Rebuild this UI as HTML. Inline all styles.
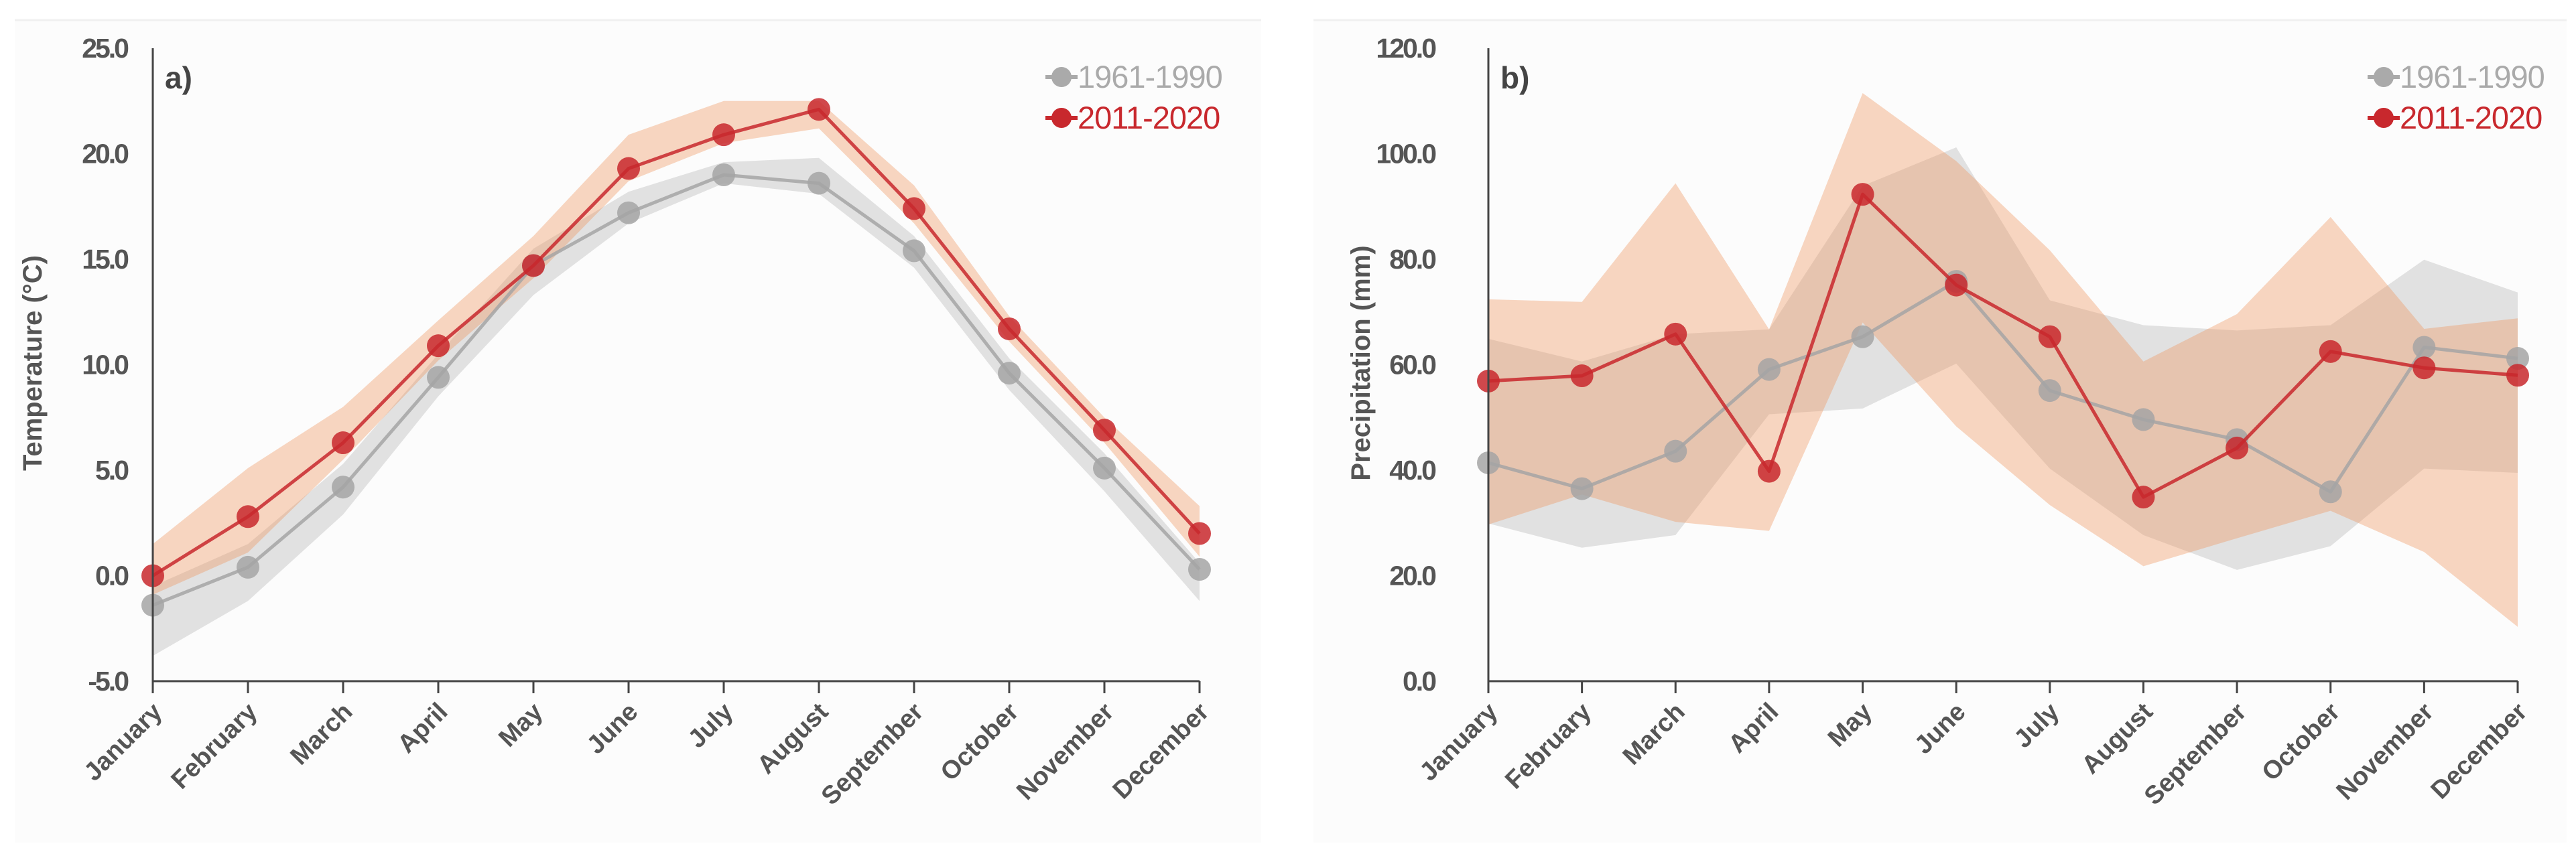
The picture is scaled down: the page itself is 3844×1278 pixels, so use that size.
<!DOCTYPE html>
<html><head><meta charset="utf-8"><style>
html,body{margin:0;padding:0;background:#fff;}
svg{display:block;font-family:"Liberation Sans",sans-serif;}
</style></head><body>
<svg id="chart" width="3844" height="1278" viewBox="0 0 3844 1278" xmlns="http://www.w3.org/2000/svg">
<rect x="0" y="0" width="3844" height="1278" fill="#ffffff"/>
<rect x="22" y="30" width="1860" height="1228" fill="#fcfcfc"/>
<rect x="1960" y="30" width="1870" height="1228" fill="#fcfcfc"/>
<line x1="22" y1="30" x2="1882" y2="30" stroke="#f0f0f0" stroke-width="3"/>
<line x1="1960" y1="30" x2="3830" y2="30" stroke="#f0f0f0" stroke-width="3"/>
</svg>
<script>
const months = ["January","February","March","April","May","June","July","August","September","October","November","December"];
const tempNew = [0.0,2.8,6.3,10.9,14.7,19.3,20.9,22.1,17.4,11.7,6.9,2.0];
const tempOld = [-1.4,0.4,4.2,9.4,14.7,17.2,19.0,18.6,15.4,9.6,5.1,0.3];
const tempNewHi = [1.5,5.1,8.0,12.1,16.1,20.9,22.5,22.5,18.5,12.3,7.5,3.3];
const tempNewLo = [-0.9,1.1,5.5,10.2,14.1,18.7,20.5,21.2,16.7,11.1,6.3,0.9];
const tempOldHi = [-0.5,1.5,5.3,10.5,15.5,18.2,19.6,19.8,16.1,10.3,5.8,0.6];
const tempOldLo = [-3.8,-1.2,2.9,8.5,13.3,16.7,18.6,18.1,14.6,8.8,4.0,-1.2];
const tempTicks = [-5,0,5,10,15,20,25];
const precNew = [56.9,57.9,65.8,39.8,92.3,75.1,65.3,34.9,44.2,62.5,59.4,58.0];
const precOld = [41.4,36.5,43.6,59.1,65.3,75.8,55.1,49.6,45.8,35.9,63.3,61.2];
const precNewHi = [72.4,71.9,94.4,66.7,111.5,98.6,81.7,60.6,69.6,88.0,66.8,68.8];
const precNewLo = [29.7,35.4,30.2,28.5,68.0,48.3,33.4,21.8,27.1,32.3,24.5,10.3];
const precOldHi = [64.9,60.6,65.8,66.7,93.9,101.2,72.2,67.5,66.5,67.5,79.9,73.7];
const precOldLo = [29.9,25.3,27.7,50.6,51.7,60.2,40.3,27.7,21.1,25.6,40.3,39.5];
const precTicks = [0,20,40,60,80,100,120];

const NS="http://www.w3.org/2000/svg";
const svg=document.getElementById('chart');
function mk(tag,attrs,parent){const e=document.createElementNS(NS,tag);for(const k in attrs)e.setAttribute(k,attrs[k]);(parent||svg).appendChild(e);return e;}

function panel(cfg){
  const g=mk('g',{});
  
  
  const x0=cfg.x0,x1=cfg.x1,yTop=72,yBot=1017;
  const xs=i=>x0+(x1-x0)*i/11;
  const ys=v=>yBot-(v-cfg.min)/(cfg.max-cfg.min)*(yBot-yTop);
  function band(hi,lo,fill,name){
    let d='M'+hi.map((v,i)=>xs(i)+','+ys(v)).join(' L');
    d+=' L'+lo.map((v,i)=>[i,v]).reverse().map(([i,v])=>xs(i)+','+ys(v)).join(' L')+' Z';
    const p=mk('path',{d:d,fill:fill},g);
    
    
  }
  band(cfg.oldHi,cfg.oldLo,'rgba(170,170,170,0.33)','band-1961-1990');
  band(cfg.newHi,cfg.newLo,'rgba(238,150,95,0.38)','band-2011-2020');
  function series(vals,color,name){
    const p=mk('polyline',{points:vals.map((v,i)=>xs(i)+','+ys(v)).join(' '),fill:'none',stroke:color,'stroke-width':5,'stroke-linejoin':'round'},g);
    
    
    vals.forEach((v,i)=>{
      const c=mk('circle',{cx:xs(i),cy:ys(v),r:17,fill:color},g);
      
      
    });
  }
  series(cfg.old,'rgba(165,165,165,0.85)','series-1961-1990');
  series(cfg.nw,'rgba(200,40,45,0.85)','series-2011-2020');
  const ya=mk('line',{x1:x0,y1:yTop,x2:x0,y2:yBot,stroke:'#444','stroke-width':3},g);
  
  
  const xa=mk('line',{x1:x0,y1:yBot,x2:x1,y2:yBot,stroke:'#444','stroke-width':3},g);
  
  
  cfg.ticks.forEach(t=>{
    const tx=mk('text',{x:x0-cfg.tickGap,y:ys(t)+14,'text-anchor':'end','font-size':41,'font-weight':'bold',fill:'#555','letter-spacing':'-3'},g);
    tx.textContent=t.toFixed(1);
    
    
  });
  months.forEach((m,i)=>{
    mk('line',{x1:xs(i),y1:yBot,x2:xs(i),y2:yBot+18,stroke:'#444','stroke-width':3},g);
    const tx=mk('text',{x:0,y:0,'text-anchor':'end','font-size':38,'font-weight':'bold',fill:'#555',transform:`translate(${xs(i)+16},${yBot+48}) rotate(-45)`},g);
    tx.textContent=m;
    
    
  });
  const at=mk('text',{x:0,y:0,'text-anchor':'middle','font-size':40,'font-weight':'bold',fill:'#555',transform:`translate(${cfg.titleX},542) rotate(-90)`},g);
  at.textContent=cfg.title;
  
  
  const pl=mk('text',{x:x0+18,y:132,'font-size':46,'font-weight':'bold',fill:'#444'},g);
  pl.textContent=cfg.label;
  
  
  const lx=cfg.legX;
  [['1961-1990','#aaaaaa',115],['2011-2020','#c8282d',176]].forEach(([t,c,y])=>{
    const lg=mk('g',{},g);
    
    
    mk('line',{x1:lx,y1:y,x2:lx+48,y2:y,stroke:c,'stroke-width':6},lg);
    mk('circle',{cx:lx+24,cy:y,r:15,fill:c},lg);
    const tx=mk('text',{x:lx+48,y:y+16,'font-size':47,fill:c,'letter-spacing':'-1'},lg);
    tx.textContent=t;
  });
}
panel({id:'panel-a-temperature',x0:228,x1:1790,min:-5,max:25,ticks:tempTicks,nw:tempNew,old:tempOld,newHi:tempNewHi,newLo:tempNewLo,oldHi:tempOldHi,oldLo:tempOldLo,title:'Temperature (°C)',titleX:62,label:'a)',legX:1560,tickGap:38});
panel({id:'panel-b-precipitation',x0:2221,x1:3757,min:0,max:120,ticks:precTicks,nw:precNew,old:precOld,newHi:precNewHi,newLo:precNewLo,oldHi:precOldHi,oldLo:precOldLo,title:'Precipitation (mm)',titleX:2044,label:'b)',legX:3533,tickGap:80});
</script>
</body></html>
